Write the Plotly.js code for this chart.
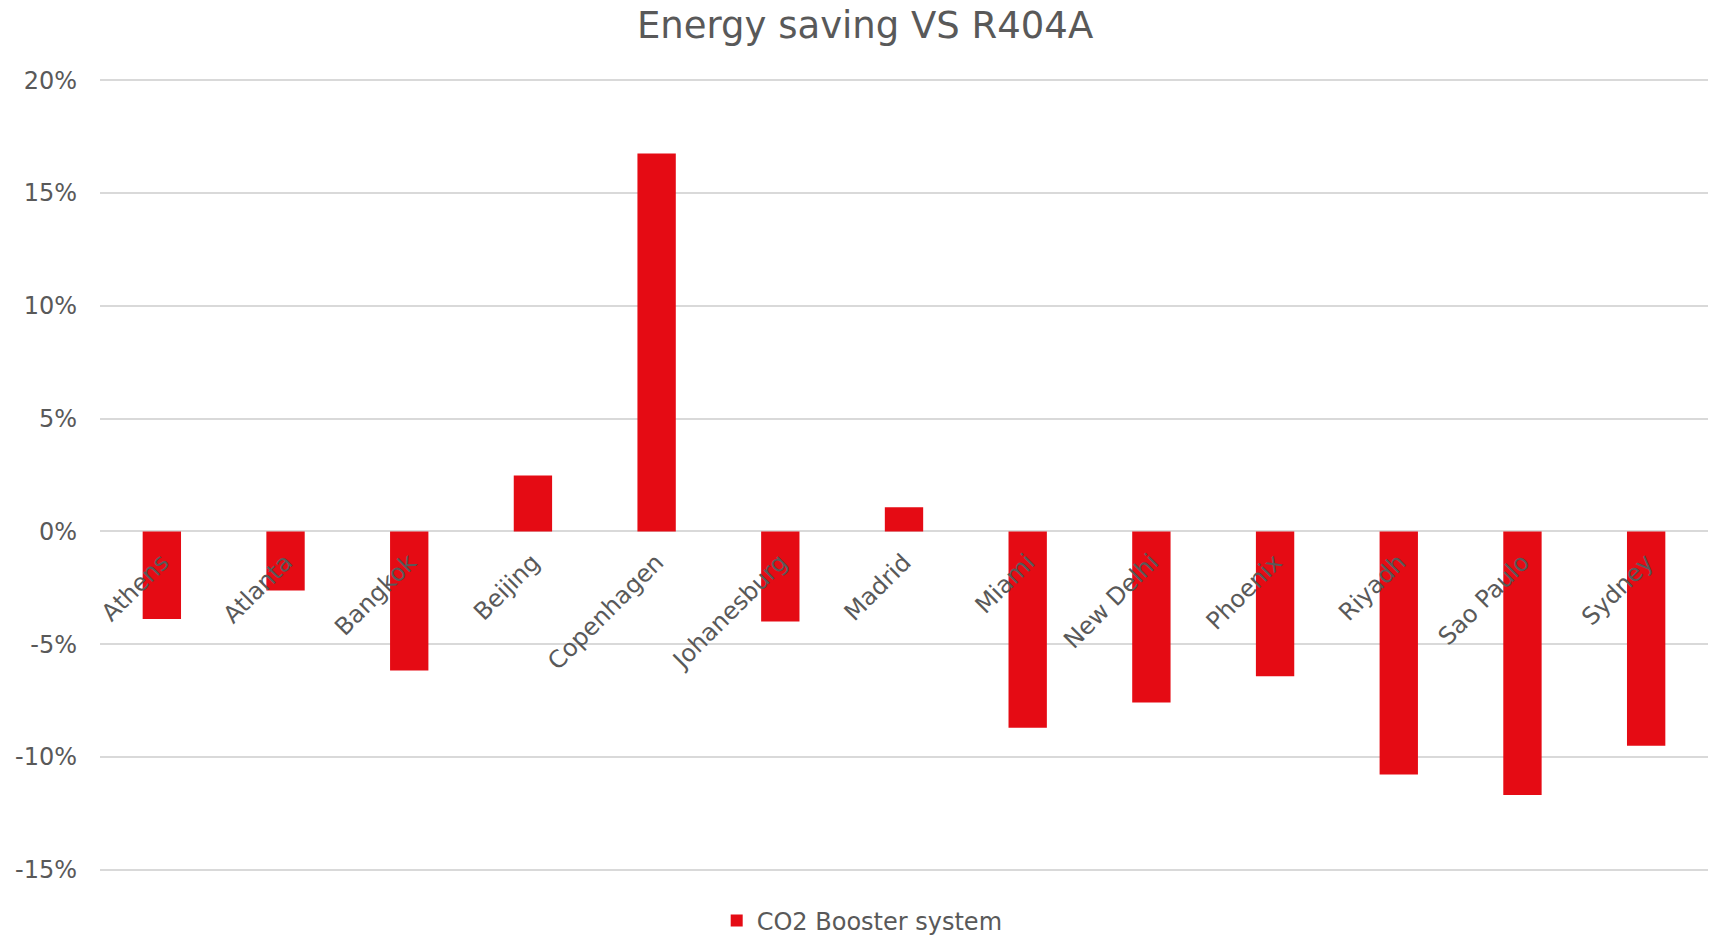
<!DOCTYPE html>
<html>
<head>
<meta charset="utf-8">
<script src="https://cdn.plot.ly/plotly-3.0.1.min.js"></script>
<style>
  html, body { margin: 0; padding: 0; background: #ffffff; }
  #chart { width: 1713px; height: 936px; }
</style>
</head>
<body>
<div id="chart"></div>
<script>
// Cities and energy saving (%) of the CO2 booster system compared to R404A
const cities = ['Athens', 'Atlanta', 'Bangkok', 'Beijing', 'Copenhagen', 'Johanesburg',
  'Madrid', 'Miami', 'New Delhi', 'Phoenix', 'Riyadh', 'Sao Paulo', 'Sydney'];
const savings = [-3.88, -2.62, -6.16, 2.48, 16.75, -3.99, 1.07, -8.70, -7.58, -6.42, -10.77, -11.68, -9.50];
const seriesName = 'CO2 Booster system';

const yTickVals = [-15, -10, -5, 0, 5, 10, 15, 20];
const yTickText = ['-15%', '-10%', '-5%', '0%', '5%', '10%', '15%', '20%'];

const textColor = '#595959';
const gridColor = '#d9d9d9';
const barColor = '#e50b14';
const fontFamily = 'DejaVu Sans, Verdana, sans-serif';

// a hair of padding so the outer gridlines at -15% and 20% are drawn
const yMin = -15.05, yMax = 20.05;

const trace = {
  type: 'bar',
  name: seriesName,
  x: cities,
  y: savings,
  width: 0.31,
  marker: { color: barColor, line: { width: 0 } },
  hoverinfo: 'x+y'
};

const layout = {
  width: 1713,
  height: 936,
  paper_bgcolor: '#ffffff',
  plot_bgcolor: '#ffffff',
  margin: { l: 100, r: 5, t: 79, b: 65, autoexpand: false },
  font: { family: fontFamily, color: textColor, size: 24 },
  title: {
    text: 'Energy saving VS R404A',
    font: { family: fontFamily, size: 37, color: textColor },
    xref: 'container', x: 0.505, xanchor: 'center',
    yref: 'container', y: 0.973, yanchor: 'middle'
  },
  xaxis: {
    type: 'category',
    anchor: 'free',
    position: (0 - yMin) / (yMax - yMin),
    showgrid: false,
    showline: false,
    zeroline: false,
    ticks: '',
    tickangle: -45,
    ticklabelstandoff: 11,
    tickfont: { family: fontFamily, size: 24, color: textColor },
    fixedrange: true
  },
  yaxis: {
    range: [yMin, yMax],
    tickvals: yTickVals,
    ticktext: yTickText,
    showgrid: true,
    gridcolor: gridColor,
    gridwidth: 2,
    zeroline: true,
    zerolinecolor: gridColor,
    zerolinewidth: 2,
    showline: false,
    ticks: '',
    ticklabelstandoff: 22,
    tickfont: { family: fontFamily, size: 24, color: textColor },
    fixedrange: true
  },
  showlegend: true,
  legend: {
    orientation: 'h',
    x: 0.474, xanchor: 'center',
    y: -0.063, yanchor: 'middle',
    font: { family: fontFamily, size: 24, color: textColor },
    bgcolor: 'rgba(0,0,0,0)'
  }
};

Plotly.newPlot('chart', [trace], layout, { displayModeBar: false, staticPlot: true });
</script>
</body>
</html>
